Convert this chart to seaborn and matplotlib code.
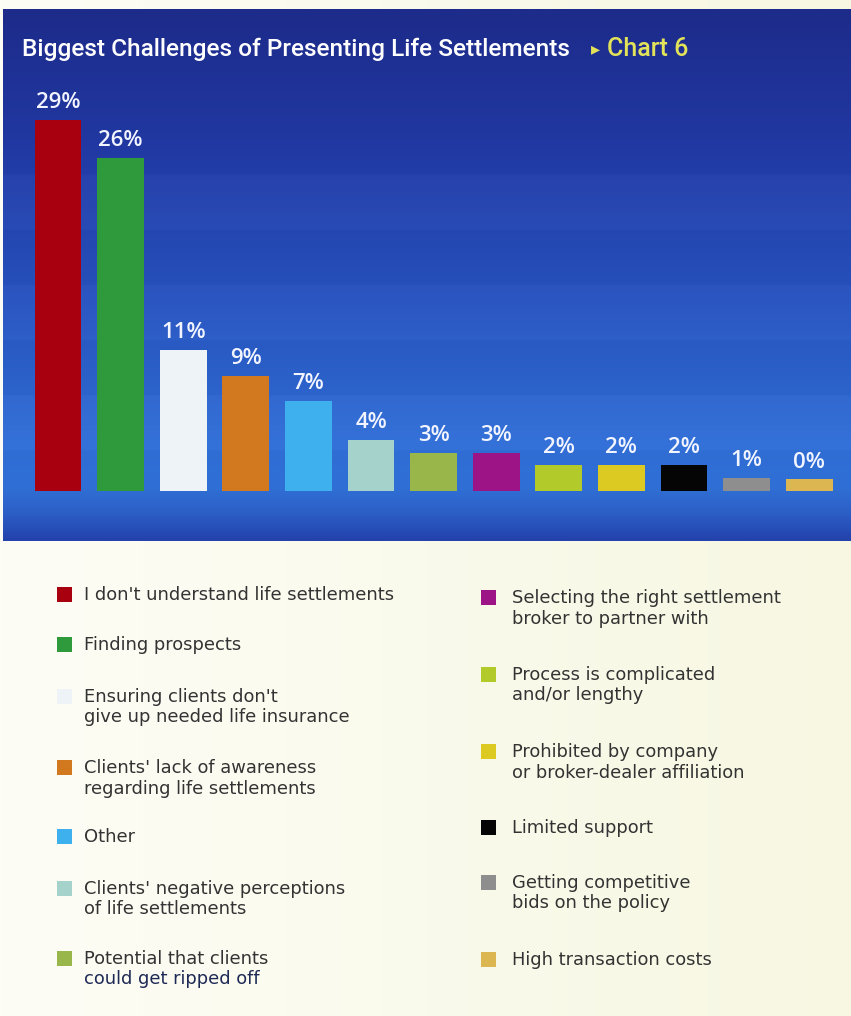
import numpy as np
import pandas as pd
import matplotlib
matplotlib.use("Agg")
import matplotlib.pyplot as plt
from matplotlib.colors import LinearSegmentedColormap
from matplotlib.patches import Rectangle
import seaborn as sns

# ---------------- data ----------------
categories = [
    "I don't understand life settlements",
    "Finding prospects",
    "Ensuring clients don't\ngive up needed life insurance",
    "Clients' lack of awareness\nregarding life settlements",
    "Other",
    "Clients' negative perceptions\nof life settlements",
    "Potential that clients\ncould get ripped off",
    "Selecting the right settlement\nbroker to partner with",
    "Process is complicated\nand/or lengthy",
    "Prohibited by company\nor broker-dealer affiliation",
    "Limited support",
    "Getting competitive\nbids on the policy",
    "High transaction costs",
]
labels_pct = [29, 26, 11, 9, 7, 4, 3, 3, 2, 2, 2, 1, 0]
# drawn heights (the 0% bar is drawn as a thin sliver)
bar_heights = [29, 26, 11, 9, 7, 4, 3, 3, 2, 2, 2, 1, 0.9]
bar_colors = ["#a8000e", "#2f9a3c", "#eef3f8", "#d2781e", "#3fb0ee", "#a6d2cc",
              "#98b64a", "#9c1486", "#b2ca2a", "#dcca22", "#050505", "#8e8e8e", "#dcb650"]

df = pd.DataFrame({"cat": categories, "h": bar_heights})

W, H = 851, 1016
fig = plt.figure(figsize=(W / 100, H / 100), dpi=100)

# ---------------- background ----------------
bg = fig.add_axes([0, 0, 1, 1])
bg.set_xlim(0, W)
bg.set_ylim(H, 0)
bg.axis("off")

cream = LinearSegmentedColormap.from_list("cream", ["#fdfdf6", "#f7f7e2"])
grad_x = np.linspace(0, 1, 256)[None, :]
bg.imshow(grad_x, cmap=cream, extent=(0, W, H, 0), aspect="auto", zorder=0)

# blue panel vertical gradient with faint horizontal bands
ny = 540
yy = np.linspace(0, 1, ny)
stops = [(0.0, "#1d2b8a"), (0.25, "#2138a2"), (0.55, "#2752bd"), (0.80, "#2f6bd2"),
         (0.90, "#3070d6"), (0.95, "#2c5fc6"), (1.0, "#2442ac")]
blue = LinearSegmentedColormap.from_list("blue", [(p, c) for p, c in stops])
band = 0.018 * ((np.floor(yy * ny / 56) % 2) == 1) * (yy > 0.3) * (yy < 0.88)
rgb = blue(yy)[:, :3] + band[:, None]
rgb = np.clip(rgb, 0, 1)
img = np.repeat(rgb[:, None, :], 4, axis=1)
bg.imshow(img, extent=(3, W, 541, 9), aspect="auto", zorder=1, interpolation="bilinear")

# title
bg.text(22, 49, "Biggest Challenges of Presenting Life Settlements", color="white",
        fontsize=17.6, fontfamily="Roboto", fontweight="medium", va="center", ha="left",
        zorder=5)
bg.text(591, 49, "\u25b8", color="#e3e35a", fontsize=13, fontfamily="DejaVu Sans",
        va="center", ha="left", zorder=5)
bg.text(607, 49, "Chart 6", color="#e3e35a", fontsize=18, fontfamily="Roboto",
        fontweight="medium", va="center", ha="left", zorder=5)

# ---------------- bars ----------------
ax = fig.add_axes([0, 0, 1, 1])
ax.patch.set_alpha(0)
x0_px, step_px, base_px, unit_px = 58, 62.6, 491, 12.8
sns.barplot(data=df, x="cat", y="h", hue="cat", palette=dict(zip(categories, bar_colors)),
            width=0.75, legend=False, ax=ax, saturation=1, linewidth=0, zorder=3)
ax.set_xlim(-x0_px / step_px, (W - x0_px) / step_px)
ax.set_ylim(-(H - base_px) / unit_px, base_px / unit_px)
ax.axis("off")

for i, (h, p) in enumerate(zip(bar_heights, labels_pct)):
    ax.annotate(f"{p}%", xy=(i, h), xytext=(0, 5), textcoords="offset points",
                ha="center", va="bottom", color="#f2f5ff", fontsize=16,
                fontfamily="Open Sans", fontweight="semibold", zorder=6)

# ---------------- legend ----------------
left_rows = [595, 645, 697, 768, 837, 889, 959]
right_rows = [598, 675, 752, 828, 883, 960]
sq = 15
fs = 12.9
for i, y in enumerate(left_rows):
    bg.add_patch(Rectangle((57, y - sq / 2 - 1), sq, sq, color=bar_colors[i], zorder=4, lw=0))
    lines = categories[i].split("\n")
    for k, ln in enumerate(lines):
        col = "#1e2a55" if (i == 6 and k == 1) else "#333333"
        bg.text(84, y + k * 20.5, ln, fontsize=fs, fontfamily="DejaVu Sans", color=col,
                va="center", ha="left", zorder=5)
for j, y in enumerate(right_rows):
    i = j + 7
    bg.add_patch(Rectangle((481, y - sq / 2 - 1), sq, sq, color=bar_colors[i], zorder=4, lw=0))
    lines = categories[i].split("\n")
    for k, ln in enumerate(lines):
        bg.text(512, y + k * 20.5, ln, fontsize=fs, fontfamily="DejaVu Sans", color="#333333",
                va="center", ha="left", zorder=5)

fig.savefig("out.png", dpi=100)
